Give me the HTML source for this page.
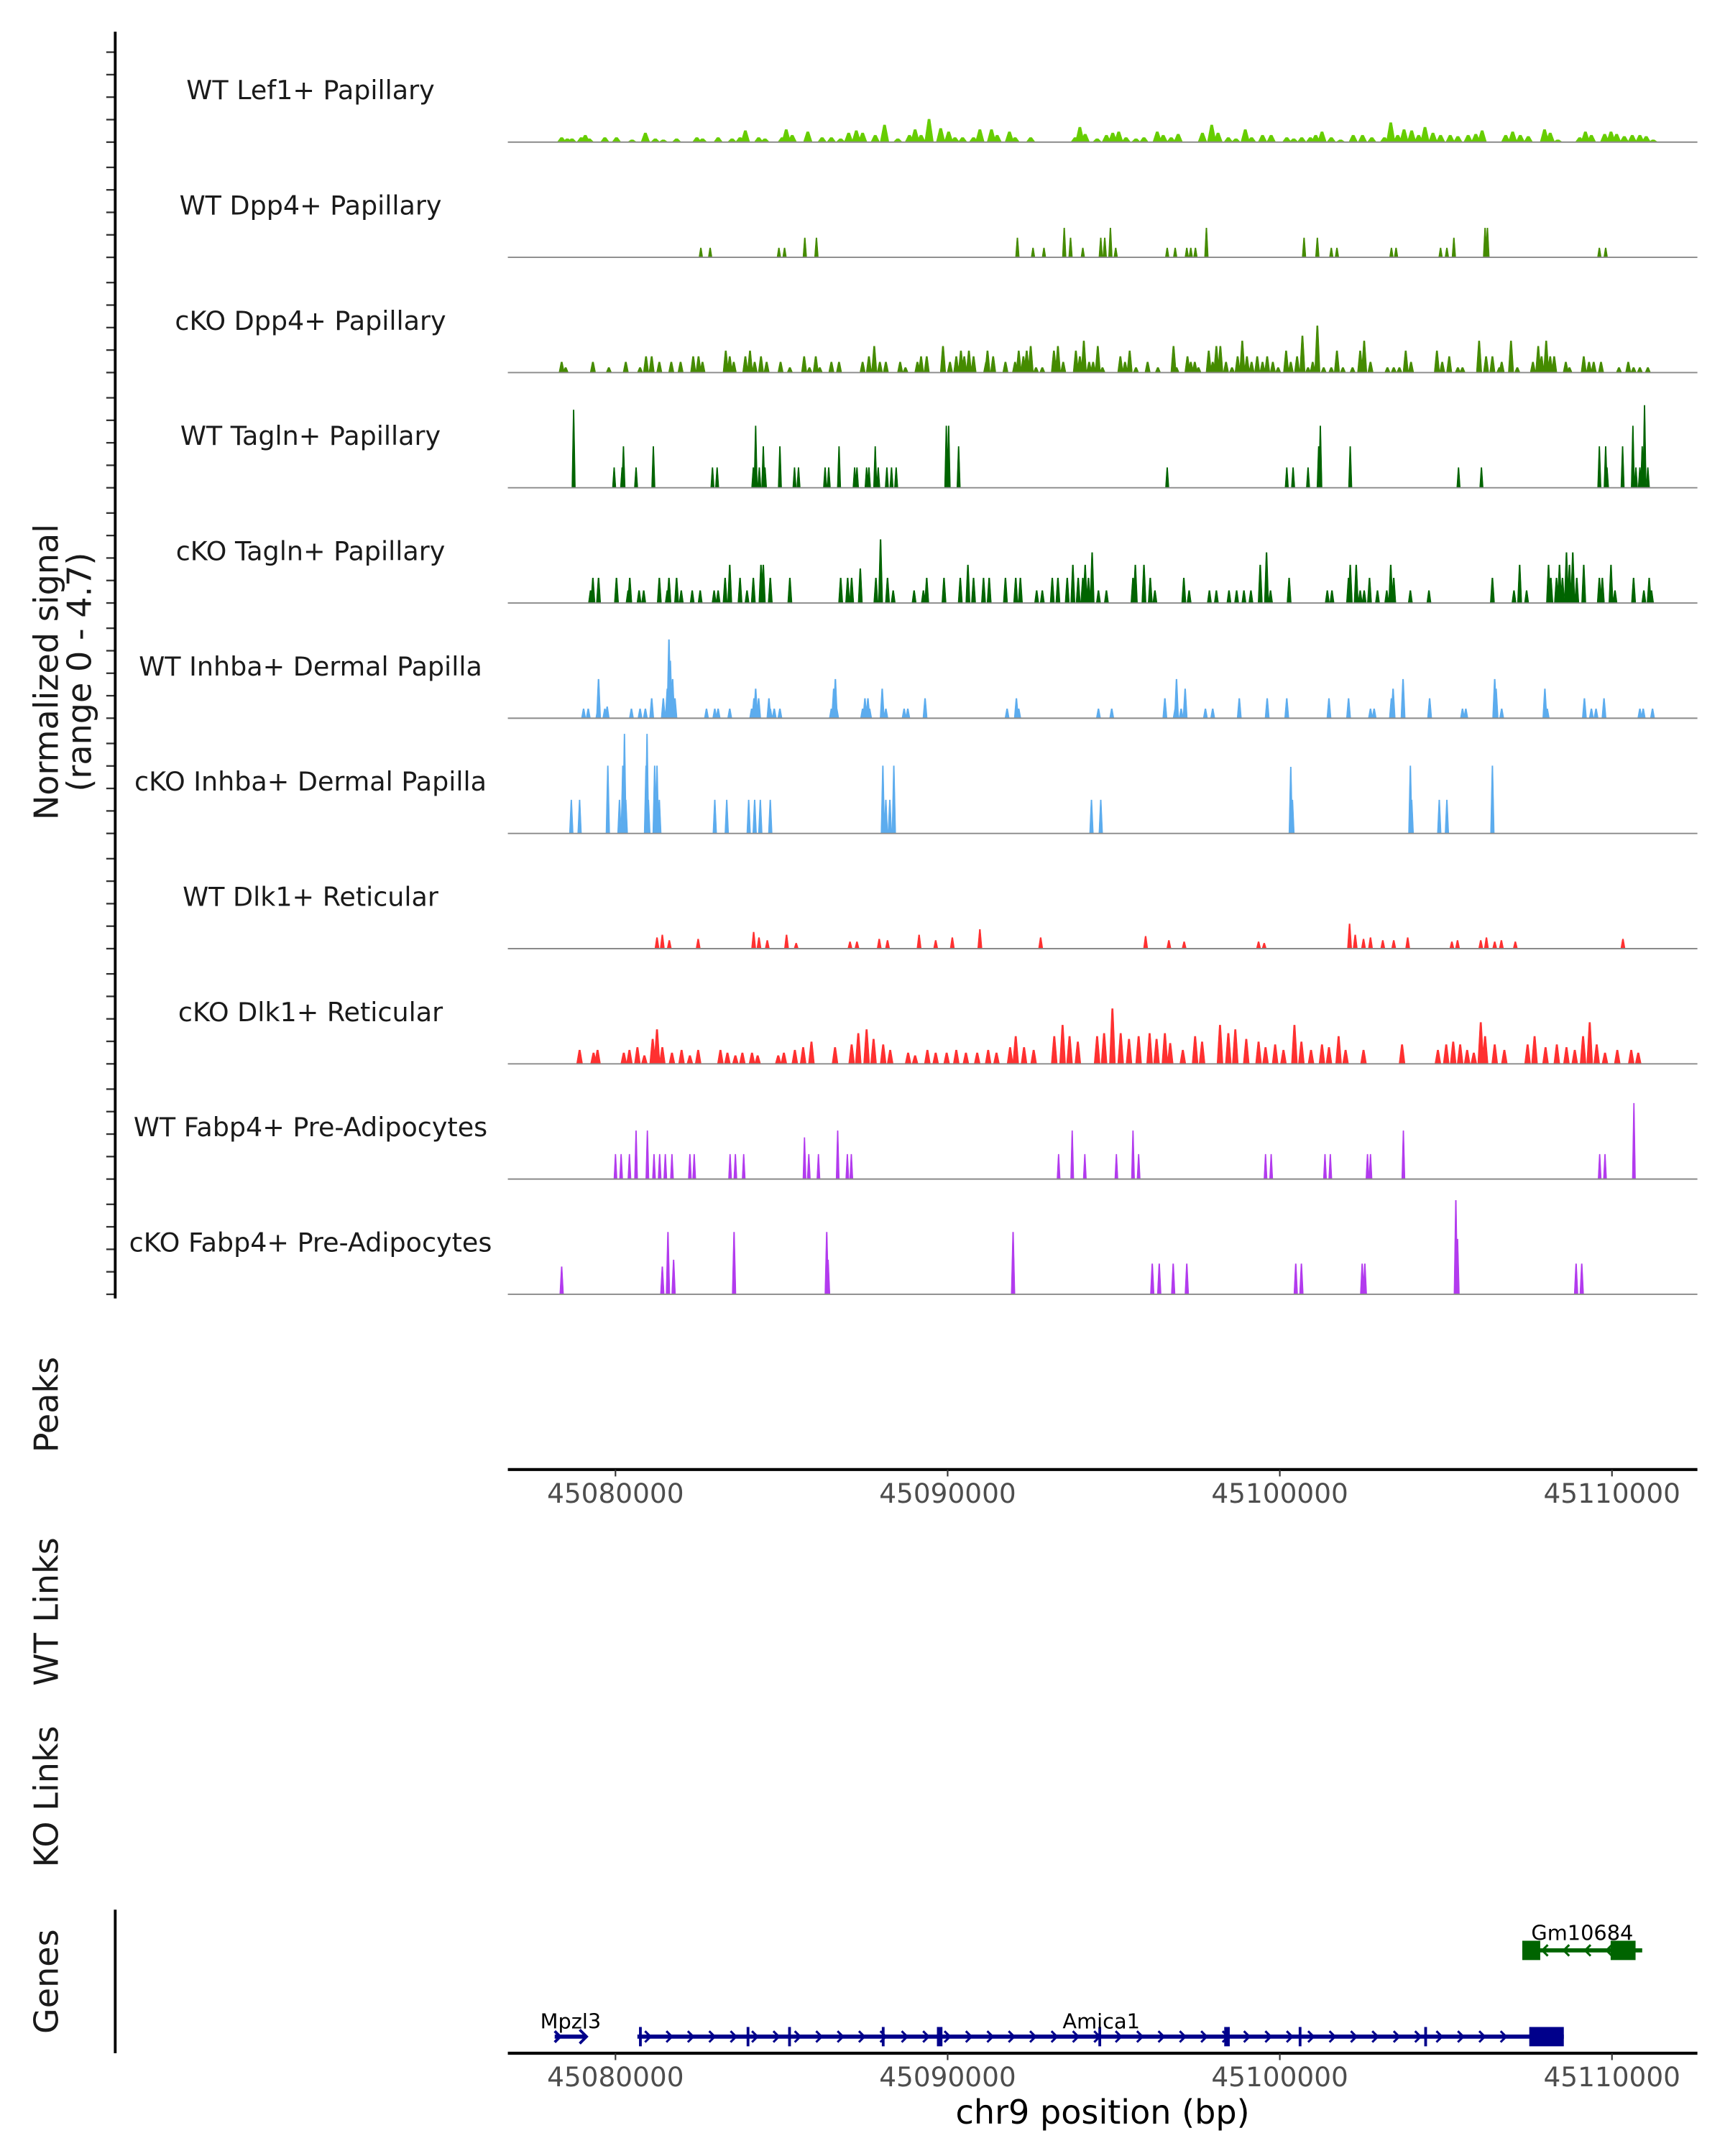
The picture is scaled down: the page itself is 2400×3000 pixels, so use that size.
<!DOCTYPE html>
<html><head><meta charset="utf-8">
<style>
html,body{margin:0;padding:0;background:#fff;}
svg{display:block;}
text{font-family:"DejaVu Sans","Liberation Sans",sans-serif;}
</style></head>
<body>
<svg id="chart" width="2400" height="3000" viewBox="0 0 1250 1562.5" xmlns="http://www.w3.org/2000/svg">
<g id="tracks"></g>
<g id="genes"></g>
<g id="axes"></g>
</svg>
<script>
// ---- data (positions in kb offset from chr9:45,000,000; values in normalized signal units) ----
const trackNames = ["WT Lef1+ Papillary","WT Dpp4+ Papillary","cKO Dpp4+ Papillary","WT Tagln+ Papillary","cKO Tagln+ Papillary","WT Inhba+ Dermal Papilla","cKO Inhba+ Dermal Papilla","WT Dlk1+ Reticular","cKO Dlk1+ Reticular","WT Fabp4+ Pre-Adipocytes","cKO Fabp4+ Pre-Adipocytes"];
const xTicks = [45080000,45090000,45100000,45110000];
const xTickLabels = ["45080000","45090000","45100000","45110000"];

const lef1Pos = [78.38,78.55,78.69,78.97,79.09,79.21,79.68,80.03,80.5,80.9,81.2,81.44,81.84,82.45,82.62,83.09,83.51,83.75,83.91,84.31,84.5,85.02,85.14,85.32,85.79,86.22,86.5,86.78,87.02,87.25,87.44,87.82,88.1,88.5,88.85,89.02,89.2,89.44,89.79,90.03,90.22,90.45,90.78,90.97,91.32,91.49,91.86,92.03,92.5,93.84,93.98,94.14,94.5,94.78,94.97,95.15,95.37,95.67,95.91,96.31,96.49,96.73,96.94,97.67,97.95,98.14,98.45,98.68,98.96,99.15,99.48,99.74,100.21,100.42,100.66,100.92,101.08,101.27,101.55,101.83,102.21,102.49,102.77,103.15,103.34,103.55,103.74,103.97,104.18,104.37,104.61,104.84,105.13,105.36,105.67,105.9,106.09,106.8,107.01,107.24,107.48,107.97,108.14,108.37,109.03,109.2,109.38,109.78,109.97,110.14,110.37,110.61,110.84,111.03,111.24];
const lef1Val = [.2,.15,.15,.2,.3,.15,.2,.2,.1,.4,.15,.1,.15,.2,.15,.2,.15,.2,.5,.2,.15,.2,.55,.3,.45,.2,.2,.15,.4,.5,.4,.3,.75,.15,.3,.55,.3,1.0,.6,.45,.2,.2,.2,.55,.55,.3,.45,.2,.2,.2,.65,.35,.15,.3,.4,.45,.2,.15,.2,.45,.3,.2,.35,.4,.75,.4,.2,.15,.55,.2,.3,.3,.2,.15,.2,.2,.3,.45,.2,.1,.3,.3,.2,.2,.85,.3,.55,.5,.3,.65,.4,.3,.3,.25,.3,.35,.5,.3,.45,.3,.25,.55,.4,.1,.2,.45,.3,.35,.45,.35,.25,.3,.3,.25,.1];

const dpp4WtPos = [82.57,82.85,84.92,85.09,85.7,86.05,92.1,92.57,92.9,93.51,93.7,94.07,94.61,94.73,94.9,95.06,96.61,96.85,97.2,97.32,97.46,97.79,100.73,101.13,101.55,101.72,103.36,103.5,104.84,105.03,105.24,106.18,106.25,109.62,109.81];
const dpp4WtVal = [.41,.41,.41,.41,.85,.85,.85,.41,.41,1.28,.85,.41,.85,.85,1.28,.41,.41,.41,.41,.41,.41,1.28,.85,.85,.41,.41,.41,.41,.41,.41,.85,1.28,1.28,.41,.41];

const dpp4KoPos = [78.38,78.5,79.32,79.8,80.31,80.74,80.92,81.09,81.32,81.68,81.96,82.34,82.5,82.62,83.32,83.44,83.56,83.91,84.05,84.19,84.38,84.55,84.97,85.25,85.68,85.84,86.03,86.15,86.5,86.73,87.44,87.63,87.79,87.96,88.14,88.57,88.73,89.09,89.2,89.37,89.86,90.07,90.26,90.4,90.5,90.64,90.78,91.16,91.2,91.37,91.74,92.03,92.14,92.28,92.38,92.5,92.66,92.85,93.2,93.32,93.48,93.86,93.98,94.1,94.26,94.38,94.52,94.66,95.2,95.34,95.48,95.67,96.02,96.33,96.8,96.89,97.22,97.32,97.44,97.55,97.86,97.98,98.09,98.21,98.38,98.56,98.73,98.87,99.01,99.15,99.32,99.48,99.62,99.79,99.95,100.19,100.33,100.52,100.68,100.85,100.99,101.13,101.32,101.55,101.72,101.9,102.19,102.42,102.54,102.73,103.24,103.43,103.6,103.79,103.95,104.73,104.89,105.1,105.36,105.5,106.0,106.21,106.4,106.61,106.68,106.96,107.15,107.62,107.78,107.88,108.02,108.14,108.26,108.61,108.72,109.15,109.31,109.45,109.67,110.21,110.49,110.65,110.84,111.08];
const dpp4KoVal = [.46,.22,.46,.22,.46,.22,.7,.7,.46,.46,.46,.7,.7,.46,.95,.7,.46,.7,.95,.46,.7,.46,.46,.22,.7,.22,.7,.22,.46,.46,.46,.7,1.15,.46,.46,.46,.22,.46,.7,.7,1.15,.46,.7,.95,.7,.95,.7,.46,.95,.7,.46,.46,.95,.7,.95,1.15,.22,.22,.95,1.15,.46,.95,.7,1.38,.46,.46,1.15,.22,.7,.46,.95,.22,.46,.22,1.15,.22,.7,.46,.46,.22,.95,.46,1.15,1.15,.46,.22,.7,1.38,.7,.46,.7,.46,.7,.46,.22,.95,.46,.7,1.6,.22,.46,2.04,.22,.22,.95,.22,.22,.95,1.38,.46,.22,.22,.22,.95,.46,.95,.46,.7,.22,.22,1.38,.7,.7,.22,.46,1.38,.22,.46,1.15,.7,1.38,.7,.7,.46,.22,.7,.46,.46,.46,.22,.46,.22,.22,.22];

const taglnWtPos = [78.74,79.96,80.2,80.24,80.62,81.14,82.92,83.06,84.15,84.22,84.33,84.45,84.5,84.95,85.39,85.51,86.31,86.42,86.73,87.2,87.27,87.56,87.63,87.82,87.91,88.17,88.31,88.45,89.96,90.03,90.33,96.61,100.21,100.4,100.85,101.17,101.22,102.12,105.38,106.07,109.62,109.81,109.85,110.32,110.63,110.72,110.84,110.91,110.98,111.08];
const taglnWtVal = [3.4,.88,.88,1.8,.88,1.8,.88,.88,.88,2.7,.88,1.8,.88,1.8,.88,.88,.88,.88,1.8,.88,.88,.88,.88,1.8,.88,.88,.88,.88,2.7,2.7,1.8,.88,.88,.88,.88,1.8,2.7,1.8,.88,.88,1.8,1.8,.88,1.8,2.7,.88,.88,1.8,3.6,.88];

const taglnKoPos = [79.25,79.32,79.49,80.03,80.38,80.43,80.71,80.85,81.32,81.56,81.61,81.84,81.98,82.31,82.55,82.97,83.09,83.3,83.44,83.75,83.96,84.15,84.38,84.45,84.66,85.25,86.78,86.99,87.11,87.37,87.84,87.98,88.19,88.36,88.99,89.27,89.37,89.89,90.38,90.61,90.78,91.08,91.25,91.74,92.05,92.19,92.68,92.85,93.15,93.32,93.6,93.77,93.93,94.07,94.14,94.24,94.35,94.54,94.78,95.58,95.65,95.91,96.1,96.24,97.11,97.27,97.88,98.09,98.47,98.7,98.92,99.13,99.41,99.6,99.72,100.28,101.43,101.57,102.07,102.12,102.3,102.42,102.54,102.7,102.94,103.22,103.34,103.43,103.93,104.49,106.4,107.05,107.22,107.43,108.09,108.16,108.33,108.42,108.51,108.63,108.72,108.82,108.94,109.15,109.62,109.71,109.97,110.09,110.65,110.96,111.12,111.19];
const taglnKoVal = [.54,1.09,1.09,1.09,.54,1.09,.54,.54,1.09,.54,1.09,1.09,.54,.54,.54,.54,.54,1.09,1.66,1.09,.54,1.09,1.66,1.66,1.09,1.09,1.09,1.09,1.09,1.5,1.09,2.77,1.09,.54,.54,.54,1.09,1.09,1.09,1.66,1.09,1.09,1.09,1.09,1.09,1.09,.54,.54,1.09,1.09,1.09,1.66,1.09,1.09,1.66,1.09,2.2,.54,.54,1.09,1.66,1.66,1.09,.54,1.09,.54,.54,.54,.54,.54,.54,.54,1.66,2.2,.54,1.09,.54,.54,1.09,1.66,1.66,.54,.54,1.09,.54,.54,1.66,1.09,.54,.54,1.09,.54,1.66,.54,1.66,1.09,1.09,1.66,1.09,2.2,1.66,2.2,1.09,1.66,1.09,1.09,1.66,.54,1.09,.54,1.09,.54];

const inhbaWtPos = [79.04,79.18,79.47,79.49,79.68,79.75,80.48,80.74,80.9,81.09,81.44,81.56,81.61,81.65,81.72,81.79,82.74,82.99,83.09,83.44,84.1,84.17,84.22,84.31,84.62,84.66,84.78,84.95,86.5,86.57,86.62,86.66,87.44,87.51,87.6,87.65,88.03,88.14,88.69,88.8,89.32,91.79,92.07,92.14,94.54,94.94,96.54,96.85,96.89,97.03,97.15,97.76,97.98,98.78,99.62,100.21,101.48,102.07,102.73,102.84,103.36,103.41,103.71,104.51,105.5,105.6,106.47,106.51,106.68,107.98,108.05,109.17,109.38,109.52,109.76,110.84,110.94,111.22];
const inhbaWtVal = [.41,.41,.41,1.7,.41,.5,.41,.41,.41,.86,.86,1.28,3.43,2.5,1.7,.86,.41,.41,.41,.41,.41,.86,1.28,.86,.86,.41,.41,.41,.41,1.28,1.7,.41,.41,.86,.86,.41,1.28,.41,.41,.41,.86,.41,.86,.41,.41,.41,.86,.41,1.7,.41,1.28,.41,.41,.86,.86,.86,.86,.86,.41,.41,.86,1.28,1.7,.86,.41,.41,1.7,1.28,.41,1.28,.41,.86,.41,.41,.86,.41,.41,.41];

const inhbaKoPos = [78.67,78.92,79.77,80.12,80.22,80.27,80.31,80.92,80.95,80.99,81.18,81.25,81.32,82.99,83.35,84.01,84.19,84.36,84.66,88.05,88.14,88.26,88.38,94.33,94.61,100.33,100.38,103.93,103.97,104.8,105.03,106.4];
const inhbaKoVal = [1.46,1.46,2.95,1.46,2.95,4.34,1.46,2.95,4.34,1.46,2.95,2.95,1.46,1.46,1.46,1.46,1.46,1.46,1.46,2.95,1.46,1.46,2.95,1.46,1.46,2.9,1.46,2.95,1.46,1.46,1.46,2.95];

const dlk1WtPos = [81.25,81.41,81.62,82.49,84.16,84.32,84.57,85.15,85.44,87.06,87.27,87.94,88.19,89.14,89.64,90.14,90.97,92.8,95.96,96.66,97.12,99.36,99.53,102.1,102.27,102.52,102.73,103.1,103.43,103.85,105.18,105.35,106.05,106.22,106.47,106.67,107.09,110.33];
const dlk1WtVal = [.48,.6,.36,.42,.72,.48,.36,.6,.24,.3,.3,.42,.36,.6,.36,.48,.84,.48,.54,.36,.3,.3,.24,1.08,.6,.42,.48,.36,.36,.48,.3,.36,.36,.48,.3,.36,.3,.42];

const dlk1KoPos = [78.92,79.34,79.46,80.25,80.42,80.66,80.87,81.12,81.25,81.41,81.7,81.99,82.24,82.49,83.16,83.37,83.61,83.82,84.11,84.28,84.9,85.07,85.4,85.65,85.9,86.61,87.11,87.31,87.56,87.77,88.06,88.27,88.81,89.02,89.39,89.64,89.97,90.26,90.55,90.89,91.22,91.47,91.88,92.05,92.3,92.59,93.21,93.46,93.67,93.92,94.5,94.71,94.96,95.21,95.46,95.75,96.08,96.29,96.54,96.7,97.08,97.45,97.66,98.2,98.45,98.66,98.99,99.36,99.57,99.86,100.11,100.44,100.65,100.94,101.27,101.48,101.77,101.98,102.52,103.68,104.76,105.01,105.22,105.43,105.64,105.84,106.05,106.18,106.47,106.76,107.46,107.67,108.0,108.34,108.63,108.88,109.13,109.33,109.54,109.79,110.16,110.58,110.79];
const dlk1KoVal = [.6,.48,.6,.48,.6,.72,.36,1.08,1.5,.72,.48,.6,.36,.6,.6,.48,.36,.48,.48,.36,.36,.48,.6,.72,.96,.72,.84,1.33,1.5,1.08,.84,.6,.48,.36,.6,.48,.48,.6,.48,.48,.6,.48,.72,1.2,.72,.6,1.2,1.69,1.2,.96,1.2,1.33,2.41,1.33,1.08,1.2,1.33,1.08,1.33,.9,.6,1.2,.96,1.69,1.33,1.5,1.08,.96,.72,.84,.6,1.69,.96,.6,.84,.72,1.2,.6,.6,.84,.6,.84,.96,.84,.6,.48,1.81,1.2,.84,.6,.84,1.2,.72,.84,.72,.6,1.2,1.81,.84,.48,.6,.6,.48];

const fabp4WtPos = [80.0,80.17,80.42,80.62,80.96,81.16,81.33,81.5,81.7,82.24,82.37,83.45,83.61,83.86,85.69,85.82,86.11,86.69,86.98,87.1,93.34,93.75,94.13,95.08,95.58,95.75,99.57,99.74,101.36,101.52,102.64,102.73,103.72,109.63,109.79,110.66];
const fabp4WtVal = [1.08,1.08,1.08,2.11,2.11,1.08,1.08,1.08,1.08,1.08,1.08,1.08,1.08,1.08,1.81,1.08,1.08,2.11,1.08,1.08,1.08,2.11,1.08,1.08,2.11,1.08,1.08,1.08,1.08,1.08,1.08,1.08,2.11,1.08,1.08,3.31];

const fabp4KoPos = [78.38,81.41,81.58,81.75,83.57,86.36,86.4,91.97,96.16,96.37,96.79,97.2,100.48,100.65,102.48,102.56,105.3,105.35,108.92,109.09];
const fabp4KoVal = [1.2,1.2,2.71,1.5,2.71,2.71,1.5,2.71,1.33,1.33,1.33,1.33,1.33,1.33,1.33,1.33,4.1,2.41,1.33,1.33];

// genes (kb)
const amica1Start = 80.66, amica1End = 108.55;
const amica1Exons = [80.75,83.99,85.24,88.06,89.76,94.58,98.41,100.61,104.39];
const mpzl3Start = 78.17, mpzl3End = 79.13;
const gmStart = 107.3, gmEnd = 110.91;
const gmExons = [[107.3,107.84],[109.96,110.71]];

// ---- rendering ----
const NS = "http://www.w3.org/2000/svg";
const X0 = 368, X1 = 1230;
function xScale(kb){ return 446 + (kb - 80) * 24.07; }
function bpX(bp){ return xScale(bp/1000 - 45000); }
const PXPERUNIT = 16.6;
function mk(tag, attrs, parent){ const e=document.createElementNS(NS,tag); for(const k in attrs) e.setAttribute(k,attrs[k]); parent.appendChild(e); return e; }

const trackSeries = [
 [lef1Pos,lef1Val,"#66CD00",3.2],
 [dpp4WtPos,dpp4WtVal,"#458B00",1.4],
 [dpp4KoPos,dpp4KoVal,"#458B00",2.0],
 [taglnWtPos,taglnWtVal,"#006400",1.3],
 [taglnKoPos,taglnKoVal,"#006400",1.6],
 [inhbaWtPos,inhbaWtVal,"#5CACEE",1.6],
 [inhbaKoPos,inhbaKoVal,"#5CACEE",1.4],
 [dlk1WtPos,dlk1WtVal,"#FF3030",1.6],
 [dlk1KoPos,dlk1KoVal,"#FF3030",2.2],
 [fabp4WtPos,fabp4WtVal,"#B23AEE",1.2],
 [fabp4KoPos,fabp4KoVal,"#B23AEE",1.4]
];
const tracksG = document.getElementById('tracks');
const axesG = document.getElementById('axes');
const genesG = document.getElementById('genes');

trackSeries.forEach((s,i)=>{
  const base = 103 + i*83.5;
  const g = mk('g',{},tracksG);
  
  
  const lbl = mk('text',{x:225,y:base-31,'text-anchor':'middle','font-size':19,fill:'#1a1a1a'},g);
  lbl.textContent = trackNames[i];
  
  
  const [pos,val,col,w] = s;
  let d = "";
  pos.forEach((p,j)=>{
    const x = xScale(p), h = val[j]*PXPERUNIT;
    d += `M${(x-w).toFixed(2)},${base} L${(x-w*0.25).toFixed(2)},${(base-h).toFixed(2)} L${(x+w*0.25).toFixed(2)},${(base-h).toFixed(2)} L${(x+w).toFixed(2)},${base} Z `;
  });
  const path = mk('path',{d:d,fill:col,stroke:col,'stroke-width':0.3},g);
  
  
  const bl = mk('line',{x1:X0,x2:X1,y1:base,y2:base,stroke:'#8a8a8a','stroke-width':1},g);
  
  
  for(let k=0;k<5;k++){
    const ty = base - k*16.3;
    const t = mk('line',{x1:77,x2:83,y1:ty,y2:ty,stroke:'#333','stroke-width':1.2},axesG);
    
    
  }
});

const yax = mk('line',{x1:83.5,x2:83.5,y1:23,y2:941,stroke:'#000','stroke-width':2},axesG);



function rotText(txt, x, y, name, size){
  const t = mk('text',{x:x,y:y,'text-anchor':'middle','font-size':size||24,fill:'#1a1a1a',transform:`rotate(-90 ${x} ${y})`},axesG);
  t.textContent = txt;
  
  
}
rotText("Normalized signal", 42, 487, 'y-axis-title');
rotText("(range 0 - 4.7)", 66, 487, 'y-axis-range');
rotText("Peaks", 42, 1018, 'peaks-title');
rotText("WT Links", 42, 1168, 'wt-links-title');
rotText("KO Links", 42, 1302, 'ko-links-title');
rotText("Genes", 42, 1436, 'genes-title');

function xAxis(y, name){
  const g = mk('g',{},axesG);
  
  
  mk('line',{x1:X0,x2:X1,y1:y,y2:y,stroke:'#000','stroke-width':2.2},g);
  xTicks.forEach((t,i)=>{
    const x = bpX(t);
    const tk = mk('line',{x1:x,x2:x,y1:y,y2:y+5,stroke:'#333','stroke-width':1.1},g);
    
    
    const tl = mk('text',{x:x,y:y+24,'text-anchor':'middle','font-size':19.5,fill:'#4d4d4d'},g);
    tl.textContent = xTickLabels[i];
    
    
  });
}
xAxis(1065,'peaks-x-axis');
xAxis(1488,'genes-x-axis');
const xt = mk('text',{x:799,y:1539,'text-anchor':'middle','font-size':24,fill:'#000'},axesG);
xt.textContent = "chr9 position (bp)";


const gax = mk('line',{x1:83.5,x2:83.5,y1:1384,y2:1488,stroke:'#000','stroke-width':2},axesG);



function chevrons(x1,x2,y,col,dir,g){
  let d="";
  for(let x=x1+8;x<x2-4;x+=15.5){
    if(dir>0) d+=`M${x-2.5},${y-4} L${x+1.5},${y} L${x-2.5},${y+4} `;
    else d+=`M${x+2.5},${y-4} L${x-1.5},${y} L${x+2.5},${y+4} `;
  }
  mk('path',{d:d,fill:'none',stroke:col,'stroke-width':1.6},g);
}
const NAVY="#00008B", GREEN="#006400";
const ga = mk('g',{},genesG);


{
  const x1=xScale(amica1Start), x2=xScale(amica1End), y=1476;
  mk('line',{x1:x1,x2:x2,y1:y,y2:y,stroke:NAVY,'stroke-width':3},ga);
  chevrons(x1,x2-25,y,NAVY,1,ga);
  amica1Exons.forEach((e,i)=>{ const x=xScale(e); const w=(i===4||i===6)?4:2; mk('rect',{x:x-w/2,y:y-7,width:w,height:14,fill:NAVY},ga); });
  mk('rect',{x:xScale(107.51),y:y-7,width:xScale(108.55)-xScale(107.51),height:14,fill:NAVY},ga);
  const t=mk('text',{x:798,y:1470,'text-anchor':'middle','font-size':15,fill:'#000'},ga); t.textContent="Amica1";
  
  
}
const gm3 = mk('g',{},genesG);


{
  const x1=xScale(mpzl3Start), x2=xScale(mpzl3End), y=1476;
  mk('line',{x1:x1,x2:x2,y1:y,y2:y,stroke:NAVY,'stroke-width':3},gm3);
  mk('path',{d:`M${x1},${y-4} L${x1+4},${y} L${x1},${y+4} M${x2-5},${y-5} L${x2},${y} L${x2-5},${y+5}`,fill:'none',stroke:NAVY,'stroke-width':2},gm3);
  const t=mk('text',{x:(x1+x2)/2,y:1470,'text-anchor':'middle','font-size':15,fill:'#000'},gm3); t.textContent="Mpzl3";
  
  
}
const gg = mk('g',{},genesG);


{
  const x1=xScale(gmStart), x2=xScale(gmEnd), y=1413.5;
  mk('line',{x1:x1,x2:x2,y1:y,y2:y,stroke:GREEN,'stroke-width':3},gg);
  chevrons(x1+8,x2-20,y,GREEN,-1,gg);
  gmExons.forEach(e=>{ mk('rect',{x:xScale(e[0]),y:y-7,width:xScale(e[1])-xScale(e[0]),height:14,fill:GREEN},gg); });
  const t=mk('text',{x:(x1+x2)/2,y:1406,'text-anchor':'middle','font-size':15,fill:'#000'},gg); t.textContent="Gm10684";
  
  
}
</script>
</body></html>
